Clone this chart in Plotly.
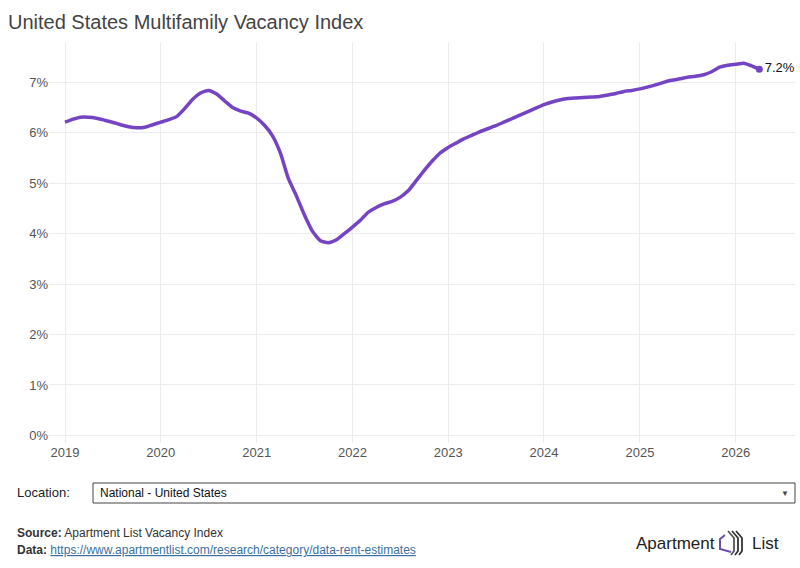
import pandas as pd
import plotly.graph_objects as go

# monthly national vacancy rate (%), Jan 2019 .. Apr 2026
START_MONTH = "2019-01-01"
VACANCY = [
    6.21, 6.27, 6.31, 6.31, 6.29, 6.25, 6.21, 6.16, 6.12, 6.10, 6.11, 6.16,
    6.21, 6.26, 6.32, 6.48, 6.66, 6.79, 6.84, 6.77, 6.63, 6.50, 6.43, 6.39,
    6.29, 6.14, 5.95, 5.60, 5.10, 4.75, 4.38, 4.05, 3.86, 3.82, 3.88, 4.00,
    4.13, 4.27, 4.42, 4.52, 4.59, 4.64, 4.72, 4.85, 5.05, 5.25, 5.44, 5.60,
    5.71, 5.80, 5.88, 5.95, 6.02, 6.08, 6.14, 6.21, 6.28, 6.35, 6.42, 6.49,
    6.56, 6.61, 6.65, 6.68, 6.69, 6.70, 6.71, 6.72, 6.75, 6.78, 6.82, 6.84,
    6.87, 6.91, 6.95, 7.00, 7.04, 7.07, 7.10, 7.12, 7.15, 7.21, 7.30, 7.34,
    7.36, 7.38, 7.33, 7.26,
]
END_LABEL = "7.2%"
Y_TICKS = [0, 1, 2, 3, 4, 5, 6, 7]
Y_LABELS = [f"{v}%" for v in Y_TICKS]

TITLE = "United States Multifamily Vacancy Index"
LOCATION = "National - United States"
SOURCE = "Apartment List Vacancy Index"
DATA_URL = "https://www.apartmentlist.com/research/category/data-rent-estimates"

PURPLE = "#7444c4"
FONT = "Liberation Sans, Arial, sans-serif"

W, H = 800, 568
L, R, T, B = 49, 5, 42, 125


def px(x):
    return (x - L) / (W - L - R)


def py(y):
    return (H - B - y) / (H - T - B)


dates = pd.date_range(START_MONTH, periods=len(VACANCY), freq="MS")

fig = go.Figure()
fig.add_trace(go.Scatter(
    x=dates, y=VACANCY, mode="lines",
    line=dict(color=PURPLE, width=3.5, shape="spline", smoothing=0.5),
    hoverinfo="skip", showlegend=False,
))
# end point + label
fig.add_trace(go.Scatter(
    x=[dates[-1]], y=[VACANCY[-1]], mode="markers+text",
    marker=dict(color=PURPLE, size=7),
    text=[END_LABEL], textposition="middle right",
    textfont=dict(size=13, color="#111", family=FONT),
    showlegend=False,
))

fig.update_xaxes(
    range=["2018-11-01", "2026-08-15"],
    dtick="M12", tick0="2019-01-01", tickformat="%Y",
    showgrid=True, gridcolor="#ececec", gridwidth=1,
    zeroline=False, showline=False, ticks="",
    tickfont=dict(size=13, color="#555", family=FONT),
)
fig.update_yaxes(
    range=[-0.15, 7.8], tickvals=Y_TICKS, ticktext=Y_LABELS,
    showgrid=True, gridcolor="#ececec", gridwidth=1,
    zeroline=False, showline=False, ticks="",
    tickfont=dict(size=13, color="#555", family=FONT),
)

# location dropdown (static look)
fig.add_shape(type="rect", xref="paper", yref="paper",
              x0=px(93), x1=px(795), y0=py(483), y1=py(503),
              line=dict(color="#444", width=1), fillcolor="white")

annos = [
    dict(x=px(15), y=py(492), text="Location:", size=13, color="#222"),
    dict(x=px(98), y=py(493), text=LOCATION, size=12, color="#111"),
    dict(x=px(779), y=py(493), text="▼", size=8, color="#444"),
    dict(x=px(15), y=py(533), text="<b>Source:</b> " + SOURCE, size=12, color="#333"),
    dict(x=px(15), y=py(550),
         text="<b>Data:</b> <span style='color:#3d6f9e'><u>" + DATA_URL + "</u></span>",
         size=12, color="#333"),
    dict(x=px(634), y=py(543), text="Apartment", size=17, color="#222"),
    dict(x=px(750), y=py(543), text="List", size=17, color="#222"),
]
for a in annos:
    fig.add_annotation(x=a["x"], y=a["y"], xref="paper", yref="paper",
                       text=a["text"], showarrow=False, xanchor="left", yanchor="middle",
                       font=dict(size=a["size"], color=a["color"], family=FONT))

# logo mark: bracket plus stripes
fig.add_shape(type="path", xref="paper", yref="paper",
              path=f"M {px(725)},{py(535)} L {px(720)},{py(539)} L {px(720)},{py(549)} "
                   f"L {px(731)},{py(552)}",
              line=dict(color="#6b4fa8", width=2))
for i, dx in enumerate([0, 4, 8]):
    fig.add_shape(type="path", xref="paper", yref="paper",
                  path=f"M {px(728 + dx)},{py(531)} L {px(734 + dx)},{py(538)} "
                       f"L {px(734 + dx)},{py(551)} L {px(731 + dx)},{py(555)}",
                  line=dict(color="#333" if i else "#555", width=1.8))

fig.update_layout(
    width=W, height=H,
    margin=dict(l=L, r=R, t=T, b=B),
    plot_bgcolor="white", paper_bgcolor="white",
    title=dict(text=TITLE, x=8 / W, xanchor="left", xref="container",
               y=1 - 22 / H, yanchor="middle",
               font=dict(size=20, color="#444", family=FONT)),
    font=dict(family=FONT),
)

fig.write_html("out.html", config={"displayModeBar": False},
               post_script="document.body.style.margin='0';")
